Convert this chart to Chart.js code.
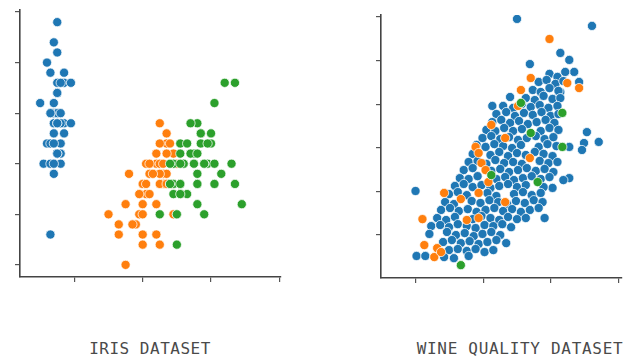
<!DOCTYPE html>
<html>
<head>
<meta charset="utf-8">
<script src="https://cdn.jsdelivr.net/npm/chart.js@4.4.1/dist/chart.umd.min.js"></script>
<style>
  body { margin: 0; background: #fff; width: 628px; height: 358px; overflow: hidden; position: relative; }
  .box { position: absolute; }
  .label { position: absolute; font-family: "DejaVu Sans Mono", monospace; font-size: 16px; color: #4a4a4a; text-align: center; letter-spacing: 0.5px; }
</style>
</head>
<body>
<div class="box" style="left:0;top:0;width:286px;height:290px"><canvas id="irisChart"></canvas></div>
<div class="box" style="left:361px;top:0;width:266px;height:291px"><canvas id="wineChart"></canvas></div>
<div class="label" style="left:40px;top:339px;width:220px">IRIS DATASET</div>
<div class="label" style="left:406px;top:339px;width:228px;letter-spacing:0.7px">WINE QUALITY DATASET</div>
<script>
// Iris : longueur des pétales (x) / largeur des sépales (y)
const setosaPetal = [1.4,1.4,1.3,1.5,1.4,1.7,1.4,1.5,1.4,1.5,1.5,1.6,1.4,1.1,1.2,1.5,1.3,1.4,1.7,1.5,1.7,1.5,1.0,1.7,1.9,1.6,1.6,1.5,1.4,1.6,1.6,1.5,1.5,1.4,1.5,1.2,1.3,1.5,1.3,1.5,1.3,1.3,1.3,1.6,1.9,1.4,1.6,1.4,1.5,1.4];
const setosaSepal = [3.5,3.0,3.2,3.1,3.6,3.9,3.4,3.4,2.9,3.1,3.7,3.4,3.0,3.0,4.0,4.4,3.9,3.5,3.8,3.8,3.4,3.7,3.6,3.3,3.4,3.0,3.4,3.5,3.4,3.2,3.1,3.4,4.1,4.2,3.1,3.2,3.5,3.1,3.0,3.4,3.5,2.3,3.2,3.5,3.8,3.0,3.8,3.2,3.7,3.3];
const versicolorPetal = [4.7,4.5,4.9,4.0,4.6,4.5,4.7,3.3,4.6,3.9,3.5,4.2,4.0,4.7,3.6,4.4,4.5,4.1,4.5,3.9,4.8,4.0,4.9,4.7,4.3,4.4,4.8,5.0,4.5,3.5,3.8,3.7,3.9,5.1,4.5,4.5,4.7,4.4,4.1,4.0,4.4,4.6,4.0,3.3,4.2,4.2,4.2,4.3,3.0,4.1];
const versicolorSepal = [3.2,3.2,3.1,2.3,2.8,2.8,3.3,2.4,2.9,2.7,2.0,3.0,2.2,2.9,2.9,3.1,3.0,2.7,2.2,2.5,3.2,2.8,2.5,2.8,2.9,3.0,2.8,3.0,2.9,2.6,2.4,2.4,2.7,2.7,3.0,3.4,3.1,2.3,3.0,2.5,2.6,3.0,2.6,2.3,2.7,3.0,2.9,2.9,2.5,2.8];
const virginicaPetal = [6.0,5.1,5.9,5.6,5.8,6.6,4.5,6.3,5.8,6.1,5.1,5.3,5.5,5.0,5.1,5.3,5.5,6.7,6.9,5.0,5.7,4.9,6.7,4.9,5.7,6.0,4.8,4.9,5.6,5.8,6.1,6.4,5.6,5.1,5.6,6.1,5.6,5.5,4.8,5.4,5.6,5.1,5.1,5.9,5.7,5.2,5.0,5.2,5.4,5.1];
const virginicaSepal = [3.3,2.7,3.0,2.9,3.0,3.0,2.5,2.9,2.5,3.6,3.2,2.7,3.0,2.5,2.8,3.2,3.0,3.8,2.6,2.2,3.2,2.8,2.8,2.7,3.3,3.2,2.8,3.0,2.8,3.0,2.8,3.8,2.8,2.8,2.6,3.0,3.4,3.1,3.0,3.1,3.1,3.1,2.7,3.2,3.3,3.0,2.5,3.0,3.4,3.0];
const irisXTicks = [2, 4, 6, 8];
const irisYTicks = [2.0, 2.5, 3.0, 3.5, 4.0, 4.5];

// Vin : acidité fixe (x) / densité (y)
const wineBlue = [
  [10.00,0.99991],[14.43,0.99959],[12.56,0.99835],[13.09,0.99803],[13.38,0.99748],[10.76,0.99784],[13.67,0.99702],[12.56,0.99656],
  [8.54,0.99592],[14.13,0.99472],[14.83,0.99427],[13.96,0.99422],[13.84,0.9939],[13.09,0.99404],[13.09,0.99261],[12.74,0.99252],
  [4.00,0.99202],[12.10,0.99216],[4.06,0.98904],[4.58,0.98904],[11.63,0.99078],[9.36,0.98963],
  [11.92,0.99739],[12.39,0.99725],[12.85,0.99748],
  [11.28,0.99702],[11.75,0.99711],[12.27,0.99693],[12.74,0.99706],
  [10.93,0.99665],[11.40,0.99656],[11.92,0.99674],[12.45,0.99661],
  [9.59,0.99633],[10.52,0.99628],[11.05,0.99619],[11.57,0.99638],[12.10,0.99624],[12.56,0.99628],
  [9.18,0.99592],[9.77,0.99583],[10.29,0.99601],[10.81,0.99587],[11.34,0.99596],[11.86,0.99583],[12.39,0.99592],
  [8.78,0.99555],[9.36,0.99564],[9.88,0.99546],[10.41,0.99560],[10.93,0.99551],[11.45,0.99564],[11.98,0.99546],[12.45,0.99555],
  [8.54,0.99518],[9.07,0.99528],[9.59,0.99514],[10.12,0.99523],[10.64,0.99509],[11.16,0.99518],[11.69,0.99528],[12.21,0.99514],
  [8.19,0.99482],[8.72,0.99477],[9.24,0.99491],[9.77,0.99477],[10.29,0.99486],[11.40,0.99477],[11.92,0.99491],[12.45,0.99482],
  [7.96,0.99445],[8.48,0.99454],[9.01,0.9944],[9.53,0.99449],[10.06,0.99436],[10.58,0.99445],[11.11,0.99454],[11.63,0.9944],[12.15,0.99449],
  [7.61,0.99413],[8.14,0.99404],[8.66,0.99417],[9.18,0.99408],[9.71,0.99399],[10.23,0.99413],[11.28,0.99404],[11.80,0.99417],[12.33,0.99408],
  [7.38,0.99372],[8.43,0.99367],[8.95,0.99381],[9.47,0.99362],[10.00,0.99376],[10.52,0.99367],[11.05,0.99381],[11.57,0.99372],[12.10,0.99362],
  [7.14,0.99335],[7.67,0.9934],[8.19,0.99326],[8.72,0.99344],[9.24,0.9933],[9.77,0.99335],[10.29,0.99326],[11.34,0.9934],[11.86,0.9933],[12.39,0.99335],
  [6.85,0.99298],[7.38,0.99307],[8.48,0.99294],[9.01,0.99303],[9.53,0.99289],[10.06,0.99298],[10.58,0.99307],[11.11,0.99294],[11.63,0.99303],[12.15,0.99289],
  [6.62,0.99261],[7.14,0.99257],[7.67,0.9927],[8.78,0.99257],[9.30,0.99266],[9.82,0.99252],[10.35,0.99261],[10.87,0.9927],[11.40,0.99257],[11.92,0.99266],
  [6.33,0.99225],[6.85,0.99234],[7.38,0.9922],[7.90,0.99229],[8.43,0.99216],[8.95,0.99225],[9.47,0.99234],[10.00,0.9922],[10.52,0.99229],[11.57,0.9922],
  [5.98,0.99188],[6.50,0.99197],[7.03,0.99183],[8.25,0.99193],[8.78,0.99179],[9.82,0.99188],[10.35,0.99197],[10.87,0.99183],[11.40,0.99193],
  [5.75,0.99151],[6.27,0.99142],[7.32,0.99156],[7.84,0.99147],[8.37,0.9916],[8.89,0.99151],[9.42,0.99142],[9.94,0.99156],[10.46,0.99147],[10.99,0.9916],[11.51,0.99151],
  [5.51,0.99115],[6.04,0.99124],[6.56,0.9911],[7.09,0.99119],[7.61,0.99106],[8.14,0.99115],[8.66,0.99124],[9.18,0.9911],[9.71,0.99119],[10.23,0.99106],[10.76,0.99115],[11.28,0.99124],
  [5.28,0.99078],[5.81,0.99069],[6.33,0.99083],[7.38,0.99073],[7.90,0.99087],[8.43,0.99078],[8.95,0.99069],[9.47,0.99083],[10.00,0.99073],[10.52,0.99078],
  [4.93,0.99041],[5.46,0.99046],[5.98,0.99036],[6.50,0.9905],[7.03,0.99041],[7.55,0.99032],[8.08,0.99046],[8.60,0.99041],[9.13,0.9905],[9.65,0.99036],
  [4.82,0.99005],[5.86,0.99014],[6.39,0.99],[6.91,0.99009],[7.44,0.98995],[7.96,0.99005],[8.48,0.99014],[9.01,0.99],
  [5.63,0.98968],[6.15,0.98977],[6.68,0.98963],[7.20,0.98972],[7.73,0.98959],[8.25,0.98968],[8.78,0.98977],
  [5.98,0.98931],[6.50,0.98936],[7.03,0.98927],[7.55,0.98936],[8.08,0.98922],[8.60,0.98931],
  [5.69,0.98899],[6.27,0.98894],[7.14,0.98904]
];
const wineOrange = [
  [11.92,0.99899],[10.81,0.9972],[12.97,0.99697],[13.67,0.99674],[10.23,0.99665],[10.06,0.99592],[8.48,0.99505],
  [7.55,0.99404],[7.73,0.99376],[7.90,0.9933],[8.14,0.99298],[8.31,0.99243],[10.76,0.99353],[9.30,0.99445],
  [5.69,0.99193],[6.68,0.99165],[7.73,0.99193],[9.30,0.99151],[4.41,0.99073],[7.03,0.99069],[7.73,0.99078],
  [4.52,0.98954],[5.28,0.9894],[5.11,0.98899],[5.51,0.98922]
];
const wineGreen = [
  [10.23,0.99606],[12.68,0.9956],[12.68,0.99404],[11.22,0.99243],[6.68,0.98862],[10.81,0.99468],[8.48,0.99275]
];
const wineXTicks = [4, 8, 12, 16];
const wineYTicks = [0.990, 0.992, 0.994, 0.996, 0.998, 1.000];

const blue = '#1f77b4', orange = '#ff7f0e', green = '#2ca02c';

function toPoints(xs, ys) {
  return xs.map((x, i) => ({ x: x, y: ys[i] }));
}
function pairs(list) {
  return list.map(p => ({ x: p[0], y: p[1] }));
}

function dots(data, color, order) {
  return {
    data: data,
    order: order,
    backgroundColor: color,
    borderColor: 'rgba(255,255,255,0.75)',
    borderWidth: 1,
    pointRadius: 4.6,
    pointHoverRadius: 4.6
  };
}

function axis(min, max, tickValues, isX) {
  return {
    type: 'linear',
    min: min,
    max: max,
    afterBuildTicks: (scale) => { scale.ticks = tickValues.map(v => ({ value: v })); },
    afterFit: (scale) => {
      if (isX) scale.height = 13; else scale.width = 20;
    },
    ticks: { display: false },
    grid: { display: true, drawOnChartArea: false, drawTicks: true, tickLength: 5, color: '#555', lineWidth: 1.2 },
    border: { display: true, color: '#444', width: 1.6 }
  };
}

function options(xs, ys, top) {
  return {
    responsive: true,
    maintainAspectRatio: false,
    animation: false,
    layout: { padding: { left: 0, right: 2, top: top, bottom: 0 } },
    plugins: { legend: { display: false }, tooltip: { enabled: false } },
    scales: { x: xs, y: ys }
  };
}

new Chart(document.getElementById('irisChart'), {
  type: 'scatter',
  data: {
    datasets: [
      dots(toPoints(setosaPetal, setosaSepal), blue, 2),
      dots(toPoints(versicolorPetal, versicolorSepal), orange, 1),
      dots(toPoints(virginicaPetal, virginicaSepal), green, 0)
    ]
  },
  options: options(axis(0.41, 8.03, irisXTicks, true), axis(1.88, 4.52, irisYTicks, false), 10)
});

new Chart(document.getElementById('wineChart'), {
  type: 'scatter',
  data: {
    datasets: [
      dots(pairs(wineBlue), blue, 2),
      dots(pairs(wineOrange), orange, 1),
      dots(pairs(wineGreen), green, 0)
    ]
  },
  options: options(axis(1.96, 16.17, wineXTicks, true), axis(0.98803, 1.00009, wineYTicks, false), 15)
});
</script>
</body>
</html>
